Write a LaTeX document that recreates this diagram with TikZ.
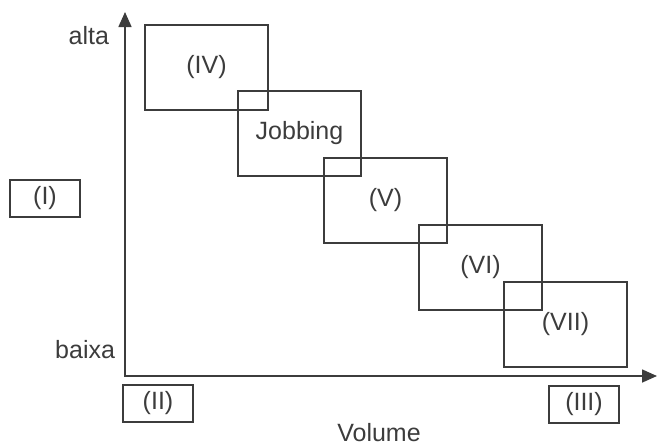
\documentclass[tikz,border=0pt]{standalone}
\usepackage{fontspec}
\setmainfont{Liberation Sans}
\usetikzlibrary{positioning,arrows.meta}
\definecolor{ink}{HTML}{3C3C3C}

\begin{document}
\begin{tikzpicture}[x=1pt,y=-1pt,
    every node/.style={font=\fontsize{25}{30}\selectfont, text=ink, inner sep=0pt, outer sep=0pt},
    box/.style={draw=ink, line width=1.6pt, minimum width=123pt, minimum height=85pt},
    tag/.style={draw=ink, line width=1.6pt, minimum width=70pt, minimum height=37pt}]
    \useasboundingbox (0,0) rectangle (658,445); % page size
    \coordinate (O) at (125,376); % origin of the axes
    \coordinate (ytop) at (125,12); % top of vertical axis
    \coordinate (xend) at (657,376); % end of horizontal axis
    \draw [ink, line width=1.6pt, {Triangle[length=15pt,width=13pt]}-{Triangle[length=15pt,width=13pt]}] (ytop) -- (O) -- (xend); % axes
    \node [anchor=base east] (alta) at (109,44) {alta}; % top of vertical axis
    \node [anchor=base east] (baixa) at (115,358) {baixa}; % bottom of vertical axis
    \node [anchor=base] (volume) at (379,441) {Volume}; % horizontal axis title
    \node [box, anchor=north west] (IV) at (145,25) {(IV)}; % first box
    \node [box, below right=-19pt and -30pt of IV] (jobbing) {Jobbing}; % second box
    \node [box, below right=-18pt and -37pt of jobbing] (V) {(V)}; % third box
    \node [box, below right=-18pt and -28pt of V] (VI) {(VI)}; % fourth box
    \node [box, below right=-28pt and -38pt of VI] (VII) {(VII)}; % last box
    \node [tag, anchor=north west] (I) at (10,180) {(I)}; % left tag
    \node [tag, anchor=north west] (II) at (123,385) {(II)}; % tag under origin
    \node [tag, anchor=north west] (III) at (549,386) {(III)}; % tag under arrow
\end{tikzpicture}
\end{document}
